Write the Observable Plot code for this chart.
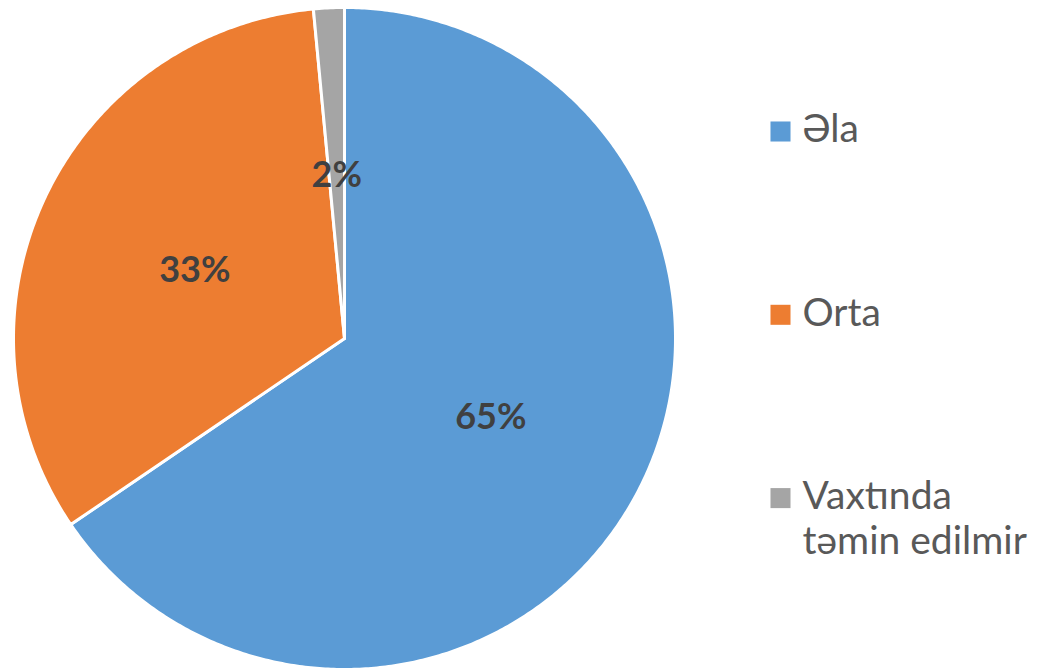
<!DOCTYPE html>
<html>
<head>
<meta charset="utf-8">
<script src="https://cdn.jsdelivr.net/npm/d3@7"></script>
<script src="https://cdn.jsdelivr.net/npm/@observablehq/plot@0.6"></script>
<style>
  html, body { margin: 0; padding: 0; background: #ffffff; }
</style>
</head>
<body>
<div id="chart"></div>
<script>
// ---- data ----
const categories = ["Əla", "Orta", "Vaxtında təmin edilmir"];
const values = [65.5, 33.0, 1.5];
const valueLabels = ["65%", "33%", "2%"];
const legendLabels = ["Əla", "Orta", "Vaxtında\ntəmin edilmir"];
const colors = ["#5B9BD5", "#ED7D31", "#A5A5A5"];

// ---- layout ----
const W = 1041, H = 669;
const cx = 344, cy = 338, R = 331;
const legendSquareX = 780, legendTextX = 802;
const legendTop = 131, legendStep = 183.3;
const legendFont = 39;

const total = d3.sum(values);
let acc = 0;
const slices = categories.map((c, i) => {
  const a0 = acc / total * 2 * Math.PI;
  acc += values[i];
  const a1 = acc / total * 2 * Math.PI;
  return {cat: c, a0, a1, label: valueLabels[i]};
});

// polygon outline of each slice in unit (data) space, angle clockwise from 12 o'clock
const poly = [];
slices.forEach(s => {
  poly.push({cat: s.cat, x: 0, y: 0});
  const n = Math.max(2, Math.ceil((s.a1 - s.a0) / (Math.PI / 360)));
  for (let k = 0; k <= n; k++) {
    const a = s.a0 + (s.a1 - s.a0) * k / n;
    poly.push({cat: s.cat, x: Math.sin(a), y: Math.cos(a)});
  }
  poly.push({cat: s.cat, x: 0, y: 0});
});

const toX = px => (px - cx) / R;
const toY = py => (cy - py) / R;
const legend = categories.map((c, i) => ({
  cat: c,
  label: legendLabels[i],
  ys: toY(legendTop + i * legendStep)
}));

const chart = Plot.plot({
  width: W,
  height: H,
  margin: 0,
  x: {domain: [-1, 1], range: [cx - R, cx + R], axis: null},
  y: {domain: [-1, 1], range: [cy + R, cy - R], axis: null},
  color: {domain: categories, range: colors},
  style: {background: "white", fontFamily: "Lato, 'Open Sans', sans-serif"},
  marks: [
    Plot.line(poly, {x: "x", y: "y", z: "cat", fill: "cat", stroke: "white", strokeWidth: 3}),
    Plot.text(slices, {
      x: d => 0.5 * Math.sin((d.a0 + d.a1) / 2),
      y: d => 0.5 * Math.cos((d.a0 + d.a1) / 2),
      text: "label",
      fontSize: 36,
      fontWeight: "bold",
      fill: "#404040",
      dy: 2
    }),
    Plot.dot(legend, {
      x: () => toX(legendSquareX),
      y: "ys",
      symbol: "square",
      r: 11.3,
      fill: "cat"
    }),
    Plot.text(legend, {
      x: () => toX(legendTextX),
      y: "ys",
      text: "label",
      textAnchor: "start",
      lineAnchor: "top",
      dy: -21,
      fontSize: legendFont,
      lineHeight: 45 / legendFont,
      fill: "#595959"
    })
  ]
});
document.getElementById("chart").appendChild(chart);
</script>
</body>
</html>
